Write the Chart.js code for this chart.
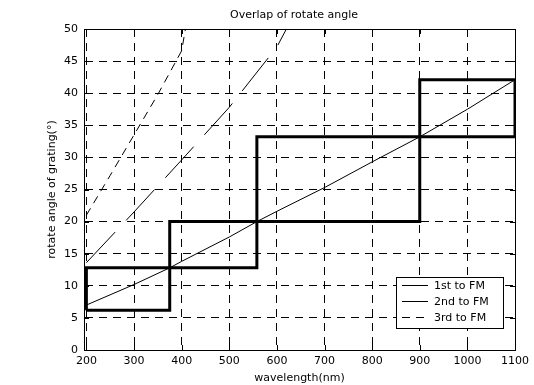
<!DOCTYPE html>
<html><head><meta charset="utf-8">
<script src="https://cdn.jsdelivr.net/npm/chart.js@4/dist/chart.umd.min.js"></script>
<style>html,body{margin:0;padding:0;background:#fff;}#wrap{position:relative;width:534px;height:385px;}</style>
</head><body><div id="wrap"><canvas id="c" width="534" height="385"></canvas></div>
<script>
// ---- data ----
const titleText = 'Overlap of rotate angle';
const xTitle = 'wavelength(nm)';
const yTitle = 'rotate angle of grating(\u00b0)';
const xTicks = [200, 300, 400, 500, 600, 700, 800, 900, 1000, 1100];
const yTicks = [0, 5, 10, 15, 20, 25, 30, 35, 40, 45, 50];
const seriesLabels = ['1st to FM', '2nd to FM', '3rd to FM'];

const firstNm  = [200, 300, 375, 400, 500, 558, 600, 700, 800, 900, 1000, 1100];
const firstDeg = [7.0, 10.2, 12.8, 13.8, 17.6, 20.0, 21.6, 25.3, 29.3, 33.2, 37.5, 42.1];

const secondNm  = [200, 300, 400, 500, 600, 620];
const secondDeg = [13.6, 21.5, 29.6, 37.8, 47.2, 50.0];

const thirdNm  = [200, 250, 300, 350, 400, 408];
const thirdDeg = [21.0, 27.2, 33.5, 39.8, 46.6, 50.0];

// grating switching boundaries (bold boxes)
const boxNm  = [200, 375, 558, 900, 1100];
const boxDeg = [6.2, 12.8, 20.0, 33.2, 42.1];

// ---- build ----
const pts = (xs, ys) => xs.map((x, i) => ({x: x, y: ys[i]}));
const boxPath = [
  [0,0],[1,0],[1,2],[3,2],[3,4],[4,4],[4,3],[2,3],[2,1],[0,1],[0,0]
].map(([i, j]) => ({x: boxNm[i], y: boxDeg[j]}));

const FONT = {family: 'DejaVu Sans', size: 11};
const dashes = [[], [42, 16], [8, 6]];

const frameAndLegend = {
  id: 'frameAndLegend',
  afterDraw(chart) {
    const ctx = chart.ctx, a = chart.chartArea;
    const xs = chart.scales.x, ys = chart.scales.y;
    ctx.save();
    ctx.setLineDash([]);
    ctx.strokeStyle = '#000';
    ctx.lineWidth = 1;
    ctx.strokeRect(Math.round(a.left) + 0.5, Math.round(a.top) + 0.5,
                   Math.round(a.right - a.left), Math.round(a.bottom - a.top));
    // inward tick marks on all four sides
    ctx.beginPath();
    xTicks.forEach(v => {
      const px = Math.round(xs.getPixelForValue(v)) + 0.5;
      ctx.moveTo(px, a.bottom); ctx.lineTo(px, a.bottom - 5);
      ctx.moveTo(px, a.top); ctx.lineTo(px, a.top + 5);
    });
    yTicks.forEach(v => {
      const py = Math.round(ys.getPixelForValue(v)) + 0.5;
      ctx.moveTo(a.left, py); ctx.lineTo(a.left + 5, py);
      ctx.moveTo(a.right, py); ctx.lineTo(a.right - 5, py);
    });
    ctx.stroke();
    // title
    ctx.fillStyle = '#000';
    ctx.font = '11px "DejaVu Sans"';
    ctx.textAlign = 'center';
    ctx.textBaseline = 'middle';
    ctx.fillText(titleText, 294, 15);
    // legend
    const lx = 396.5, ly = 277.5, lw = 107, lh = 51;
    ctx.fillStyle = '#fff';
    ctx.fillRect(lx, ly, lw, lh);
    ctx.strokeRect(lx, ly, lw, lh);
    ctx.textAlign = 'left';
    chart.data.datasets.slice(0, 3).forEach((ds, i) => {
      const y = 285.5 + i * 16;
      ctx.setLineDash(ds.borderDash || []);
      ctx.lineWidth = 1;
      ctx.beginPath();
      ctx.moveTo(402, y);
      ctx.lineTo(428, y);
      ctx.stroke();
      ctx.setLineDash([]);
      ctx.fillStyle = '#000';
      ctx.fillText(ds.label, 434, y + 0.5);
    });
    ctx.restore();
  }
};

new Chart(document.getElementById('c'), {
  type: 'line',
  data: {
    datasets: [
      {label: seriesLabels[0], data: pts(firstNm, firstDeg), borderColor: '#000', borderWidth: 1, borderDash: dashes[0], pointRadius: 0, tension: 0, fill: false},
      {label: seriesLabels[1], data: pts(secondNm, secondDeg), borderColor: '#000', borderWidth: 1, borderDash: dashes[1], pointRadius: 0, tension: 0, fill: false},
      {label: seriesLabels[2], data: pts(thirdNm, thirdDeg), borderColor: '#000', borderWidth: 1, borderDash: dashes[2], pointRadius: 0, tension: 0, fill: false},
      {label: 'ranges', data: boxPath, borderColor: '#000', borderWidth: 3, pointRadius: 0, tension: 0, fill: false, borderJoinStyle: 'miter'}
    ]
  },
  options: {
    responsive: false,
    animation: false,
    devicePixelRatio: 1,
    layout: {padding: {top: 29, right: 14, left: 0, bottom: 0}},
    plugins: {legend: {display: false}, title: {display: false}, tooltip: {enabled: false}},
    scales: {
      x: {
        type: 'linear', min: 195, max: 1100,
        afterBuildTicks: s => { s.ticks = xTicks.map(v => ({value: v})); },
        afterFit: s => { s.height = 35; },
        ticks: {color: '#000', font: FONT, padding: 5, maxRotation: 0, autoSkip: false, callback: v => String(v)},
        grid: {color: '#000', lineWidth: 1, drawTicks: false},
        border: {display: true, color: '#000', dash: [8, 6]},
        title: {display: true, text: xTitle, color: '#000', font: FONT, padding: {top: 0, bottom: 0}}
      },
      y: {
        type: 'linear', min: 0, max: 50,
        afterBuildTicks: s => { s.ticks = yTicks.map(v => ({value: v})); },
        afterFit: s => { s.width = 84; },
        ticks: {color: '#000', font: FONT, padding: 6, autoSkip: false, callback: v => String(v)},
        grid: {color: '#000', lineWidth: 1, drawTicks: false},
        border: {display: true, color: '#000', dash: [8, 6]},
        title: {display: true, text: yTitle, color: '#000', font: FONT, padding: {top: 46, bottom: 0}}
      }
    }
  },
  plugins: [frameAndLegend]
});
</script></body></html>
